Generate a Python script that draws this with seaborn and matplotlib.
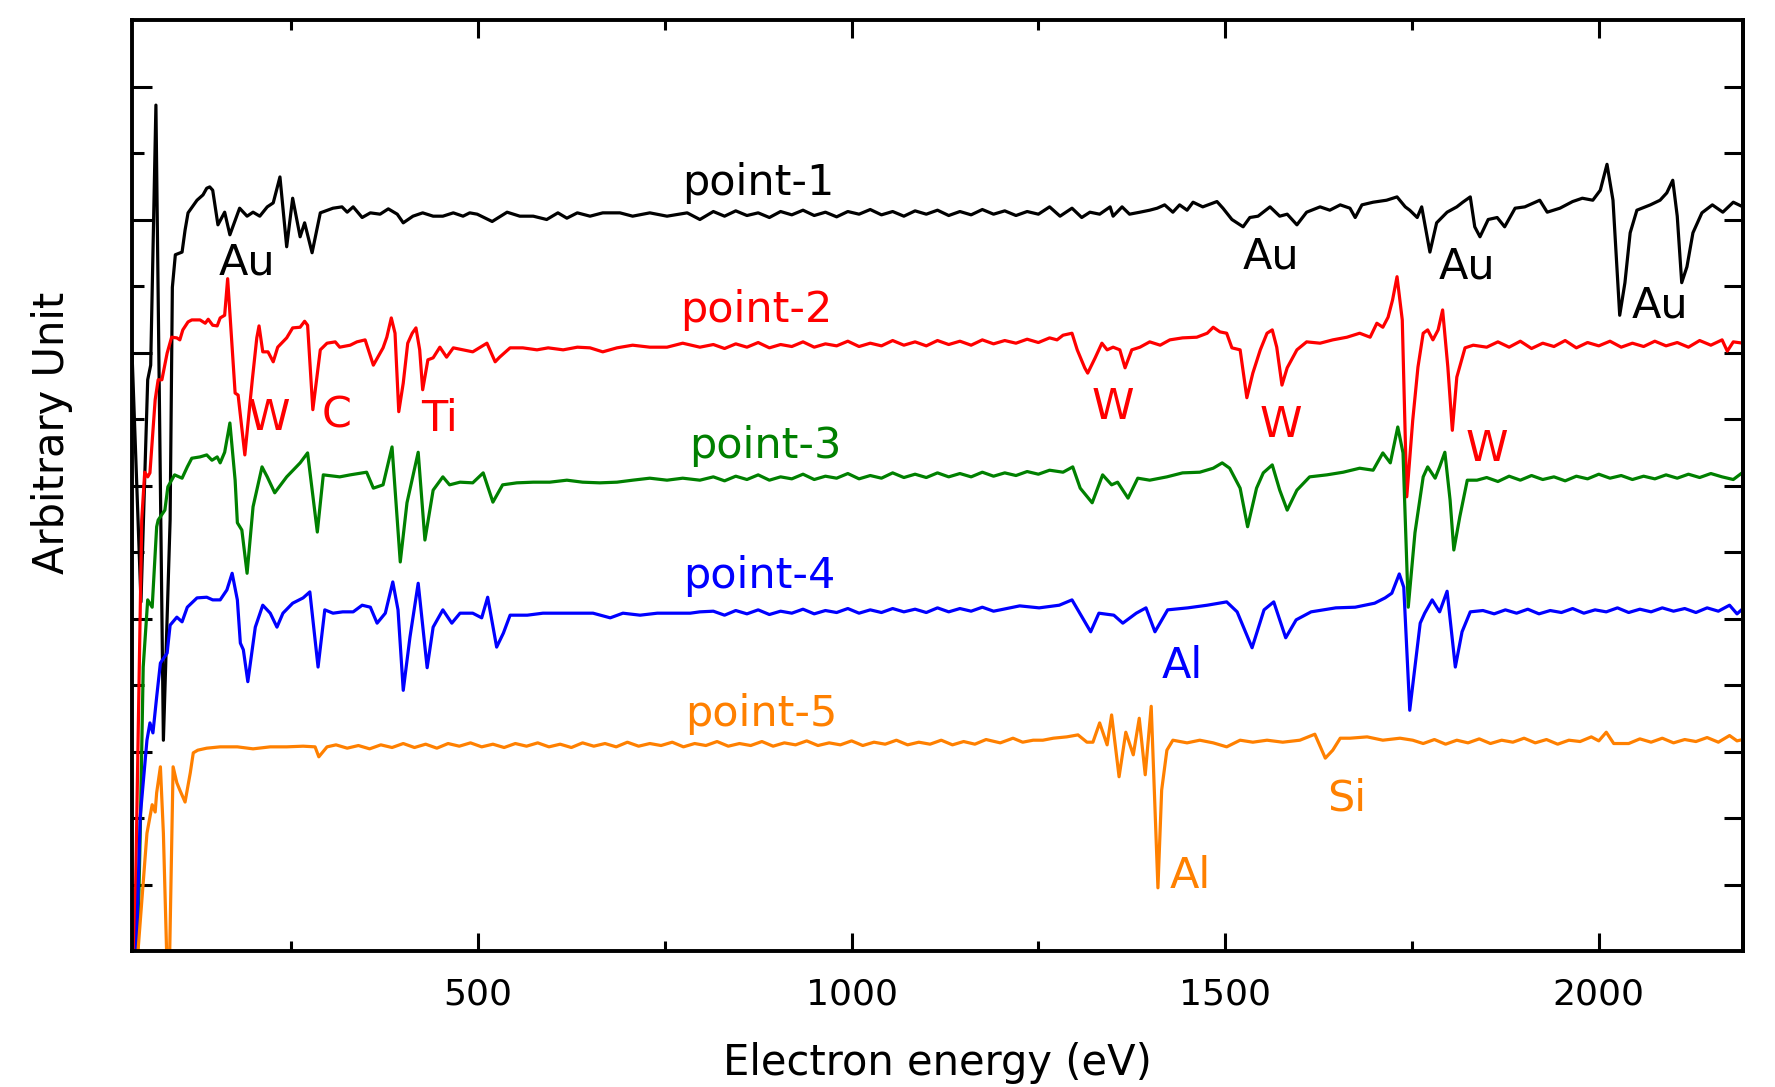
import matplotlib
matplotlib.use("Agg")
import matplotlib.pyplot as plt
import pandas as pd
import seaborn as sns
from matplotlib.ticker import FixedLocator

# ---------------- data (electron energy [eV], signal [arb. units]) ----------------
point1 = [(37, 9.00), (49, 5.25), (58, 8.59), (62, 8.81), (69, 12.72), (79, 3.17), (88, 6.48), (91, 9.98),
          (95, 10.47), (104, 10.51), (108, 10.84), (112, 11.10), (124, 11.29), (132, 11.37), (137, 11.47),
          (141, 11.49), (145, 11.44), (152, 10.92), (161, 11.11), (168, 10.77), (181, 11.17), (191, 11.05),
          (199, 11.11), (208, 11.05), (218, 11.19), (226, 11.25), (235, 11.64), (244, 10.59), (252, 11.32),
          (262, 10.74), (268, 10.95), (278, 10.50), (289, 11.10), (306, 11.17), (318, 11.19), (325, 11.11),
          (333, 11.19), (345, 11.03), (356, 11.10), (369, 11.08), (380, 11.16), (392, 11.08), (400, 10.95),
          (413, 11.05), (426, 11.10), (440, 11.05), (453, 11.05), (467, 11.10), (480, 11.05), (489, 11.10),
          (499, 11.08), (519, 10.97), (539, 11.11), (556, 11.05), (574, 11.05), (592, 11.00), (607, 11.10),
          (619, 11.02), (633, 11.10), (650, 11.05), (667, 11.10), (690, 11.10), (707, 11.05), (730, 11.10),
          (753, 11.05), (780, 11.10), (797, 11.00), (815, 11.12), (830, 11.05), (845, 11.13), (860, 11.06),
          (875, 11.10), (890, 11.03), (905, 11.12), (920, 11.07), (935, 11.14), (950, 11.06), (965, 11.11),
          (980, 11.04), (995, 11.12), (1010, 11.08), (1025, 11.15), (1040, 11.07), (1055, 11.12),
          (1070, 11.05), (1085, 11.13), (1100, 11.08), (1115, 11.14), (1130, 11.06), (1145, 11.12),
          (1160, 11.07), (1175, 11.15), (1190, 11.08), (1205, 11.13), (1220, 11.06), (1235, 11.12),
          (1250, 11.08), (1265, 11.19), (1279, 11.05), (1295, 11.17), (1308, 11.03), (1319, 11.11),
          (1332, 11.08), (1346, 11.19), (1350, 11.05), (1362, 11.19), (1372, 11.08), (1386, 11.11),
          (1399, 11.14), (1409, 11.17), (1419, 11.22), (1430, 11.11), (1439, 11.22), (1449, 11.14),
          (1457, 11.26), (1470, 11.19), (1489, 11.27), (1497, 11.17), (1509, 11.00), (1524, 10.89),
          (1533, 11.03), (1544, 11.05), (1560, 11.19), (1573, 11.05), (1583, 11.08), (1596, 10.92),
          (1609, 11.11), (1627, 11.19), (1640, 11.14), (1654, 11.22), (1667, 11.17), (1674, 11.03),
          (1683, 11.22), (1698, 11.26), (1716, 11.29), (1730, 11.34), (1741, 11.19), (1747, 11.14),
          (1757, 11.03), (1763, 11.19), (1774, 10.51), (1783, 10.95), (1797, 11.11), (1810, 11.19),
          (1818, 11.26), (1828, 11.34), (1834, 10.89), (1841, 10.74), (1852, 11.00), (1864, 11.03),
          (1874, 10.89), (1888, 11.17), (1901, 11.19), (1921, 11.29), (1931, 11.11), (1948, 11.17),
          (1965, 11.27), (1978, 11.32), (1992, 11.29), (2002, 11.44), (2011, 11.83), (2019, 11.29),
          (2028, 9.56), (2035, 10.05), (2042, 10.80), (2051, 11.14), (2069, 11.22), (2082, 11.29),
          (2091, 11.40), (2099, 11.59), (2105, 11.05), (2111, 10.05), (2118, 10.29), (2126, 10.80),
          (2138, 11.10), (2152, 11.22), (2166, 11.11), (2180, 11.26), (2193, 11.19)]

point2 = [(40, -0.30), (50, 6.48), (54, 7.20), (58, 7.13), (61, 7.19), (68, 8.29), (72, 8.59), (77, 8.59),
          (84, 8.99), (90, 9.23), (97, 9.22), (101, 9.19), (105, 9.34), (112, 9.46), (117, 9.49), (128, 9.49),
          (135, 9.44), (139, 9.50), (145, 9.41), (151, 9.40), (155, 9.52), (161, 9.56), (165, 10.11),
          (175, 8.39), (179, 8.36), (188, 7.46), (198, 8.59), (204, 9.22), (207, 9.40), (212, 9.01),
          (219, 9.01), (226, 8.86), (232, 9.08), (244, 9.22), (252, 9.37), (262, 9.38), (268, 9.47),
          (272, 9.41), (279, 8.14), (289, 9.04), (298, 9.14), (309, 9.16), (315, 9.08), (329, 9.11),
          (338, 9.16), (349, 9.19), (360, 8.81), (373, 9.07), (378, 9.23), (384, 9.52), (389, 9.29),
          (394, 8.11), (400, 8.54), (406, 9.14), (412, 9.29), (417, 9.37), (422, 9.04), (426, 8.44),
          (433, 8.89), (440, 8.92), (449, 9.08), (458, 8.93), (467, 9.07), (480, 9.04), (493, 9.01),
          (512, 9.14), (523, 8.86), (529, 8.93), (543, 9.07), (560, 9.07), (579, 9.04), (594, 9.07),
          (614, 9.04), (633, 9.08), (650, 9.07), (667, 9.01), (686, 9.07), (707, 9.11), (730, 9.08),
          (753, 9.08), (774, 9.14), (797, 9.08), (815, 9.12), (830, 9.06), (845, 9.13), (860, 9.08),
          (875, 9.15), (890, 9.07), (905, 9.12), (920, 9.09), (935, 9.16), (950, 9.08), (965, 9.13),
          (980, 9.10), (995, 9.17), (1010, 9.09), (1025, 9.14), (1040, 9.10), (1055, 9.18), (1070, 9.11),
          (1085, 9.16), (1100, 9.10), (1115, 9.18), (1130, 9.12), (1145, 9.17), (1160, 9.11), (1175, 9.19),
          (1190, 9.13), (1205, 9.18), (1220, 9.14), (1235, 9.20), (1250, 9.15), (1265, 9.22), (1275, 9.19),
          (1283, 9.26), (1295, 9.29), (1302, 9.04), (1312, 8.77), (1316, 8.69), (1326, 8.92), (1335, 9.14),
          (1342, 9.04), (1350, 9.08), (1359, 9.04), (1366, 8.77), (1375, 9.04), (1386, 9.08), (1399, 9.16),
          (1413, 9.11), (1426, 9.19), (1443, 9.22), (1462, 9.23), (1476, 9.29), (1484, 9.38), (1493, 9.31),
          (1502, 9.29), (1509, 9.07), (1520, 9.04), (1529, 8.32), (1537, 8.69), (1547, 9.04), (1556, 9.29),
          (1563, 9.34), (1569, 9.08), (1576, 8.51), (1583, 8.77), (1596, 9.04), (1609, 9.16), (1627, 9.14),
          (1644, 9.19), (1663, 9.23), (1680, 9.29), (1694, 9.23), (1703, 9.44), (1711, 9.38), (1718, 9.53),
          (1724, 9.79), (1730, 10.14), (1737, 9.49), (1743, 6.83), (1751, 7.98), (1758, 8.78), (1765, 9.29),
          (1771, 9.34), (1778, 9.19), (1785, 9.34), (1791, 9.64), (1798, 8.78), (1804, 7.83), (1810, 8.63),
          (1821, 9.07), (1832, 9.11), (1850, 9.08), (1865, 9.16), (1880, 9.08), (1895, 9.17), (1910, 9.06),
          (1925, 9.14), (1940, 9.09), (1955, 9.18), (1970, 9.07), (1985, 9.15), (2000, 9.10), (2015, 9.17),
          (2030, 9.08), (2045, 9.14), (2060, 9.09), (2075, 9.17), (2090, 9.10), (2105, 9.15), (2120, 9.08),
          (2135, 9.18), (2150, 9.11), (2165, 9.19), (2172, 9.02), (2180, 9.16), (2193, 9.14)]

point3 = [(44, -0.30), (48, 1.77), (52, 4.27), (58, 5.28), (64, 5.17), (70, 6.38), (72, 6.48), (81, 6.63),
          (85, 6.98), (94, 7.16), (104, 7.11), (111, 7.28), (117, 7.41), (128, 7.43), (137, 7.46), (144, 7.38),
          (151, 7.43), (155, 7.34), (161, 7.50), (168, 7.94), (175, 7.08), (178, 6.44), (184, 6.33),
          (191, 5.68), (199, 6.68), (211, 7.28), (218, 7.13), (228, 6.89), (244, 7.13), (262, 7.34),
          (272, 7.49), (285, 6.30), (293, 7.16), (315, 7.13), (329, 7.16), (351, 7.20), (360, 6.96),
          (373, 7.01), (385, 7.58), (396, 5.85), (405, 6.74), (420, 7.50), (429, 6.18), (440, 6.93),
          (453, 7.13), (462, 7.01), (476, 7.05), (493, 7.04), (507, 7.19), (520, 6.75), (533, 7.01),
          (552, 7.04), (574, 7.05), (596, 7.05), (619, 7.08), (640, 7.05), (663, 7.04), (686, 7.05),
          (707, 7.08), (730, 7.11), (753, 7.08), (774, 7.11), (797, 7.08), (815, 7.13), (830, 7.07),
          (845, 7.14), (860, 7.09), (875, 7.16), (890, 7.08), (905, 7.13), (920, 7.10), (935, 7.17),
          (950, 7.09), (965, 7.14), (980, 7.11), (995, 7.18), (1010, 7.10), (1025, 7.15), (1040, 7.11),
          (1055, 7.19), (1070, 7.12), (1085, 7.17), (1100, 7.12), (1115, 7.19), (1130, 7.13), (1145, 7.18),
          (1160, 7.13), (1175, 7.20), (1190, 7.14), (1205, 7.19), (1220, 7.15), (1235, 7.21), (1250, 7.17),
          (1265, 7.23), (1283, 7.20), (1296, 7.28), (1306, 6.96), (1322, 6.74), (1336, 7.16), (1348, 7.01),
          (1356, 7.05), (1370, 6.81), (1383, 7.11), (1399, 7.08), (1422, 7.13), (1443, 7.19), (1466, 7.20),
          (1484, 7.26), (1496, 7.34), (1506, 7.26), (1520, 6.96), (1530, 6.38), (1542, 6.96), (1551, 7.19),
          (1563, 7.31), (1573, 6.93), (1583, 6.63), (1596, 6.93), (1613, 7.13), (1636, 7.16), (1658, 7.20),
          (1680, 7.26), (1698, 7.23), (1711, 7.49), (1721, 7.34), (1731, 7.88), (1738, 7.49), (1745, 5.17),
          (1754, 6.29), (1761, 6.83), (1765, 7.13), (1771, 7.28), (1781, 7.11), (1787, 7.28), (1794, 7.50),
          (1801, 6.78), (1806, 6.03), (1814, 6.53), (1824, 7.08), (1837, 7.08), (1850, 7.12), (1865, 7.06),
          (1880, 7.14), (1895, 7.08), (1910, 7.15), (1925, 7.09), (1940, 7.13), (1955, 7.07), (1970, 7.14),
          (1985, 7.10), (2000, 7.17), (2015, 7.11), (2030, 7.15), (2045, 7.09), (2060, 7.14), (2075, 7.10),
          (2090, 7.16), (2105, 7.11), (2120, 7.17), (2135, 7.12), (2150, 7.18), (2165, 7.13), (2180, 7.09),
          (2193, 7.20)]

point4 = [(42, -0.30), (48, 2.02), (57, 3.17), (61, 3.43), (65, 3.28), (70, 3.82), (75, 4.33), (84, 4.48),
          (88, 4.90), (97, 5.02), (104, 4.95), (111, 5.17), (124, 5.31), (137, 5.32), (145, 5.28), (155, 5.28),
          (164, 5.43), (171, 5.68), (178, 5.28), (182, 4.63), (186, 4.53), (192, 4.05), (202, 4.87),
          (212, 5.20), (222, 5.08), (231, 4.87), (239, 5.08), (252, 5.23), (266, 5.31), (275, 5.40),
          (286, 4.27), (295, 5.13), (306, 5.08), (319, 5.10), (333, 5.10), (345, 5.20), (356, 5.17),
          (365, 4.93), (376, 5.08), (386, 5.55), (393, 5.13), (400, 3.92), (409, 4.72), (420, 5.53),
          (432, 4.26), (440, 4.87), (453, 5.13), (465, 4.93), (476, 5.08), (493, 5.08), (505, 5.01),
          (513, 5.32), (525, 4.57), (534, 4.78), (543, 5.05), (566, 5.05), (587, 5.08), (610, 5.08),
          (633, 5.08), (654, 5.08), (677, 5.01), (694, 5.08), (717, 5.05), (740, 5.08), (761, 5.08),
          (784, 5.08), (797, 5.10), (815, 5.11), (830, 5.05), (845, 5.12), (860, 5.07), (875, 5.13),
          (890, 5.06), (905, 5.11), (920, 5.08), (935, 5.14), (950, 5.07), (965, 5.12), (980, 5.09),
          (995, 5.15), (1010, 5.08), (1025, 5.13), (1040, 5.09), (1055, 5.15), (1070, 5.10), (1085, 5.14),
          (1100, 5.09), (1115, 5.16), (1130, 5.10), (1145, 5.15), (1160, 5.11), (1175, 5.17), (1190, 5.11),
          (1199, 5.13), (1225, 5.19), (1251, 5.16), (1278, 5.20), (1295, 5.28), (1307, 5.05), (1320, 4.80),
          (1331, 5.08), (1351, 5.05), (1363, 4.93), (1381, 5.08), (1394, 5.16), (1406, 4.80), (1423, 5.13),
          (1450, 5.16), (1476, 5.20), (1502, 5.25), (1516, 5.10), (1536, 4.56), (1552, 5.13), (1565, 5.25),
          (1581, 4.71), (1595, 4.98), (1615, 5.10), (1648, 5.16), (1674, 5.17), (1700, 5.23), (1714, 5.31),
          (1723, 5.38), (1733, 5.67), (1739, 5.47), (1747, 3.62), (1761, 4.93), (1767, 5.08), (1777, 5.28),
          (1787, 5.10), (1797, 5.41), (1808, 4.27), (1817, 4.80), (1828, 5.10), (1845, 5.12), (1860, 5.07),
          (1875, 5.13), (1890, 5.08), (1905, 5.14), (1920, 5.07), (1935, 5.12), (1950, 5.09), (1965, 5.15),
          (1980, 5.08), (1995, 5.13), (2010, 5.10), (2025, 5.16), (2040, 5.09), (2055, 5.14), (2070, 5.10),
          (2085, 5.16), (2100, 5.11), (2115, 5.15), (2130, 5.09), (2145, 5.16), (2160, 5.11), (2175, 5.20),
          (2185, 5.07), (2193, 5.15)]

point5 = [(43, -0.30), (52, 1.02), (57, 1.77), (64, 2.20), (68, 2.09), (70, 2.38), (75, 2.77), (79, 1.77),
          (84, -0.30), (87, -0.30), (92, 2.77), (97, 2.53), (101, 2.42), (108, 2.24), (115, 2.68),
          (119, 2.98), (125, 3.02), (137, 3.05), (155, 3.07), (178, 3.07), (199, 3.04), (222, 3.07),
          (244, 3.07), (266, 3.08), (282, 3.07), (287, 2.92), (298, 3.07), (310, 3.10), (325, 3.05),
          (340, 3.09), (355, 3.04), (370, 3.10), (385, 3.06), (400, 3.12), (415, 3.06), (430, 3.11),
          (445, 3.05), (460, 3.12), (475, 3.08), (490, 3.13), (505, 3.07), (520, 3.11), (535, 3.06),
          (550, 3.12), (565, 3.08), (580, 3.13), (595, 3.07), (610, 3.11), (625, 3.06), (640, 3.13),
          (655, 3.08), (670, 3.12), (685, 3.07), (700, 3.14), (715, 3.08), (730, 3.12), (745, 3.09),
          (760, 3.14), (775, 3.07), (790, 3.12), (805, 3.09), (820, 3.15), (835, 3.08), (850, 3.12),
          (865, 3.09), (880, 3.15), (895, 3.08), (910, 3.13), (925, 3.10), (940, 3.16), (955, 3.09),
          (970, 3.13), (985, 3.10), (1000, 3.16), (1015, 3.09), (1030, 3.14), (1045, 3.11), (1060, 3.17),
          (1075, 3.10), (1090, 3.14), (1105, 3.11), (1120, 3.17), (1135, 3.10), (1150, 3.15), (1165, 3.11),
          (1180, 3.18), (1199, 3.13), (1216, 3.20), (1229, 3.14), (1243, 3.17), (1256, 3.17), (1270, 3.20),
          (1288, 3.22), (1303, 3.25), (1315, 3.14), (1323, 3.14), (1332, 3.43), (1342, 3.10), (1348, 3.55),
          (1358, 2.62), (1367, 3.29), (1377, 2.95), (1385, 3.50), (1393, 2.65), (1401, 3.68), (1406, 2.17),
          (1410, 0.95), (1415, 2.42), (1422, 3.02), (1430, 3.17), (1449, 3.13), (1466, 3.17), (1484, 3.13),
          (1502, 3.07), (1520, 3.17), (1537, 3.14), (1556, 3.17), (1577, 3.14), (1600, 3.17), (1620, 3.26),
          (1634, 2.90), (1644, 3.02), (1654, 3.20), (1667, 3.20), (1690, 3.22), (1711, 3.17), (1734, 3.20),
          (1751, 3.17), (1765, 3.12), (1780, 3.18), (1795, 3.11), (1810, 3.17), (1825, 3.13), (1840, 3.19),
          (1855, 3.12), (1870, 3.17), (1885, 3.14), (1900, 3.20), (1915, 3.13), (1930, 3.18), (1945, 3.11),
          (1960, 3.17), (1975, 3.15), (1990, 3.22), (2000, 3.16), (2010, 3.29), (2020, 3.12), (2040, 3.12),
          (2055, 3.19), (2070, 3.14), (2085, 3.20), (2100, 3.13), (2115, 3.18), (2130, 3.15), (2145, 3.21),
          (2160, 3.14), (2175, 3.24), (2185, 3.16), (2193, 3.18)]

series_names = ["point-1", "point-2", "point-3", "point-4", "point-5"]
series_colors = ["#000000", "#ff0000", "#008000", "#0000ff", "#ff8000"]

# series labels: (text, energy, signal)
series_labels = [("point-1", 875, 11.55), ("point-2", 873, 9.64), ("point-3", 884, 7.59),
                 ("point-4", 877, 5.64), ("point-5", 879, 3.56)]

# peak annotations: (text, energy, signal, series index)
peak_labels = [("Au", 191, 10.36, 0), ("Au", 1561, 10.45, 0), ("Au", 1823, 10.30, 0), ("Au", 2082, 9.70, 0),
               ("W", 220, 8.02, 1), ("C", 311, 8.05, 1), ("Ti", 448, 8.00, 1), ("W", 1350, 8.18, 1),
               ("W", 1575, 7.91, 1), ("W", 1850, 7.55, 1), ("Al", 1442, 4.29, 3), ("Si", 1663, 2.29, 4),
               ("Al", 1453, 1.13, 4)]

x_major = [500, 1000, 1500, 2000]
x_minor = [250, 750, 1250, 1750]

# ---------------- plot ----------------
sns.set_theme(style="white")
plt.rcParams['font.family'] = ['DejaVu Sans']

frames = []
for name, pts in zip(series_names, [point1, point2, point3, point4, point5]):
    e, v = zip(*pts)
    frames.append(pd.DataFrame({"energy": e, "signal": v, "spectrum": name}))
df = pd.concat(frames, ignore_index=True)

fig = plt.figure(figsize=(17.75, 10.87), dpi=100)
ax = fig.add_axes([0.07437, 0.12511, 0.90760, 0.85649])

sns.lineplot(data=df, x="energy", y="signal", hue="spectrum", hue_order=series_names,
             palette=dict(zip(series_names, series_colors)), estimator=None, sort=False,
             linewidth=2.3, legend=False, ax=ax)

ax.set_xlim(37, 2193)
ax.set_ylim(0, 14)

for sp in ax.spines.values():
    sp.set_visible(True)
    sp.set_color("black")
    sp.set_linewidth(2.8)

ax.xaxis.set_major_locator(FixedLocator(x_major))
ax.xaxis.set_minor_locator(FixedLocator(x_minor))
ax.yaxis.set_major_locator(FixedLocator([1, 3, 5, 7, 9, 11, 13]))
ax.yaxis.set_minor_locator(FixedLocator([2, 4, 6, 8, 10, 12]))

ax.tick_params(axis="x", which="major", direction="in", length=13, width=2.2, colors="black",
               top=True, bottom=True, labelsize=26, pad=19)
ax.tick_params(axis="x", which="minor", direction="in", length=7, width=2.2, colors="black",
               top=True, bottom=True)
ax.tick_params(axis="y", which="major", direction="in", length=14.4, width=2.2, colors="black",
               left=True, right=False, labelleft=False)
ax.tick_params(axis="y", which="minor", direction="in", length=8.6, width=2.2, colors="black",
               left=True, right=False)

sec = ax.secondary_yaxis("right")
sec.yaxis.set_major_locator(FixedLocator(list(range(1, 14))))
sec.tick_params(direction="in", length=14, width=2.2, colors="black", labelright=False)
sec.spines["right"].set_linewidth(2.8)
sec.spines["right"].set_color("black")

ax.set_xlabel("Electron energy (eV)", fontsize=30, color="black")
ax.xaxis.label.set_verticalalignment("center")
ax.xaxis.set_label_coords(0.5, -0.120)
ax.set_ylabel("Arbitrary Unit", fontsize=30, color="black")
ax.yaxis.label.set_verticalalignment("center")
ax.yaxis.label.set_horizontalalignment("center")
ax.yaxis.set_label_coords(-0.0497, 0.557)

for text, e, v in series_labels:
    idx = series_names.index(text)
    ax.text(e, v, text, color=series_colors[idx], fontsize=31, ha="center", va="center")

for text, e, v, idx in peak_labels:
    ax.text(e, v, text, color=series_colors[idx], fontsize=31, ha="center", va="center")

fig.savefig("out.png", dpi=100)
